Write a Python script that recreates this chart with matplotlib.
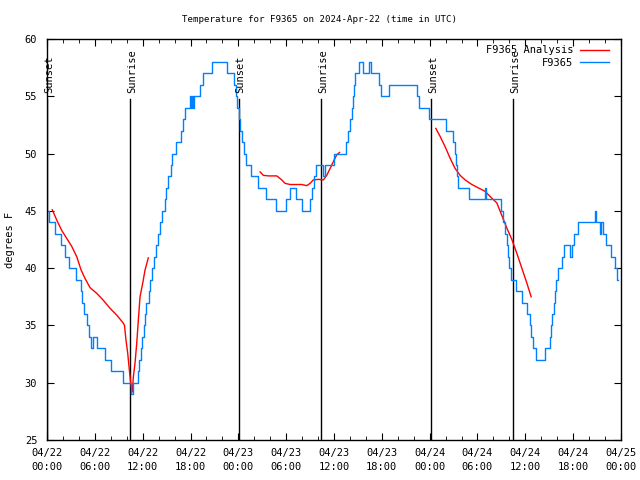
import matplotlib
matplotlib.use("Agg")
import matplotlib.pyplot as plt
from matplotlib.ticker import MultipleLocator, FuncFormatter
import numpy as np

plt.rcParams['font.family'] = ['DejaVu Sans Mono']
plt.rcParams['font.size'] = 7

# hours since 2024-04-22 00:00 UTC
obs_hours = [0.1, 0.3, 1.0, 1.75, 2.3, 2.8, 3.6, 4.23, 4.35, 4.7, 5.0, 5.27, 5.52, 5.83, 6.21,
             7.28, 8.09, 9.54, 10.54, 10.79, 11.36, 11.54, 11.73, 11.92, 12.11, 12.30, 12.48,
             12.74, 12.92, 13.17, 13.43, 13.68, 13.93, 14.18, 14.39, 14.81, 14.93, 15.18, 15.5,
             15.72, 16.12, 16.81, 17.0, 17.25, 17.94, 18.03, 18.16, 18.28, 18.38, 19.13, 19.57,
             20.70, 22.52, 23.46, 23.65, 23.84, 24.03, 24.25, 24.5, 24.72, 24.97, 25.6, 26.47,
             27.48, 28.73, 29.92, 30.49, 31.24, 31.99, 32.94, 33.19, 33.44, 33.69, 34.57, 34.82,
             36.0, 37.52, 37.77, 38.02, 38.2, 38.35, 38.52, 38.65, 39.15, 39.59, 40.34, 40.59,
             41.59, 41.84, 42.85, 46.36, 46.68, 47.93, 50.06, 50.94, 51.13, 51.25, 51.38, 51.57,
             52.95, 54.89, 55.02, 56.96, 57.21, 57.4, 57.65, 57.78, 57.97, 58.16, 58.85, 59.6,
             60.16, 60.6, 60.73, 60.92, 61.35, 62.42, 63.05, 63.17, 63.36, 63.61, 63.74, 63.86,
             64.05, 64.62, 64.87, 65.62, 65.81, 66.12, 66.62, 68.7, 68.82, 69.39, 69.5, 69.7,
             70.14, 70.7, 71.2, 71.46, 71.58]
obs_temp = [45, 44, 43, 42, 41, 40, 39, 38, 37, 36, 35, 34, 33, 34, 33,
            32, 31, 30, 29, 30, 31, 32, 33, 34, 35, 36, 37,
            38, 39, 40, 41, 42, 43, 44, 45, 46, 47, 48, 49,
            50, 51, 52, 53, 54, 55, 54, 55, 54, 55, 56, 57,
            58, 57, 56, 55, 54, 53, 52, 51, 50, 49, 48, 47,
            46, 45, 46, 47, 46, 45, 46, 47, 48, 49, 48, 49,
            50, 51, 52, 53, 54, 55, 56, 57, 58, 57, 58, 57,
            56, 55, 56, 55, 54, 53, 52, 51, 50, 49, 48, 47,
            46, 47, 46, 45, 44, 43, 42, 41, 40, 39, 38, 37,
            36, 35, 34, 33, 32, 33, 34, 35, 36, 37, 38, 39,
            40, 41, 42, 41, 42, 43, 44, 45, 44, 43, 44, 43,
            42, 41, 40, 39, 39]

ana1_hours = [0.66, 1.22, 1.84, 2.47, 3.10, 3.73, 4.27, 4.77, 5.40, 6.24, 7.06, 7.90, 8.75,
              9.57, 9.72, 9.91, 10.12, 10.33, 10.50, 10.70, 10.83, 11.04, 11.25, 11.46, 11.67,
              12.01, 12.30, 12.71]
ana1_temp = [45.1, 44.2, 43.3, 42.6, 41.9, 41.0, 39.85, 39.1, 38.3, 37.8, 37.2, 36.5, 35.9,
             35.2, 35.0, 33.7, 32.6, 31.1, 30.0, 29.2, 30.5, 31.7, 33.4, 35.5, 37.5,
             38.7, 39.85, 40.9]
ana2_hours = [26.73, 27.14, 27.77, 28.82, 29.45, 29.86, 30.49, 31.12, 31.96, 32.58, 33.0,
              33.41, 34.04, 34.67, 35.09, 35.51, 35.92, 36.35, 36.7]
ana2_temp = [48.4, 48.1, 48.05, 48.05, 47.7, 47.4, 47.3, 47.3, 47.3, 47.2, 47.4,
             47.7, 47.75, 47.7, 48.1, 48.7, 49.3, 49.9, 50.1]
ana3_hours = [48.77, 49.31, 49.94, 50.56, 51.19, 51.82, 52.45, 53.29, 54.12, 54.96, 55.80,
              56.42, 57.05, 57.68, 58.31, 58.93, 59.56, 60.19, 60.73]
ana3_temp = [52.2, 51.5, 50.6, 49.6, 48.7, 48.1, 47.7, 47.3, 47.0, 46.7, 46.1,
             45.7, 44.6, 43.5, 42.5, 41.3, 40.0, 38.7, 37.5]

sun_hours = [0.05, 10.45, 24.1, 34.42, 48.22, 58.5]
sun_labels = ["Sunset", "Sunrise", "Sunset", "Sunrise", "Sunset", "Sunrise"]

day_names = ["04/22", "04/23", "04/24", "04/25"]

fig = plt.figure(figsize=(6.4, 4.8), dpi=100)
ax = fig.add_axes([47 / 640, 40 / 480, 574 / 640, 401 / 480])

for h, lab in zip(sun_hours, sun_labels):
    ax.plot([h, h], [25, 54.8], color='black', lw=1.0)
    ax.text(h + 0.2, 55.3, lab, rotation=90, ha='center', va='bottom', fontsize=7.5)

red = '#ff0000'
ax.plot(ana1_hours, ana1_temp, color=red, lw=1.0, label='F9365 Analysis')
ax.plot(ana2_hours, ana2_temp, color=red, lw=1.0)
ax.plot(ana3_hours, ana3_temp, color=red, lw=1.0)
ax.plot(obs_hours, obs_temp, color='#0080ff', lw=1.0, drawstyle='steps-post', label='F9365')

ax.set_xlim(0, 72)
ax.set_ylim(25, 60)
ax.xaxis.set_major_locator(MultipleLocator(6))
ax.xaxis.set_minor_locator(MultipleLocator(2))
ax.yaxis.set_major_locator(MultipleLocator(5))


def fmt(x, pos):
    d = int(x // 24)
    hh = int(round(x - d * 24))
    return "%s\n%02d:00" % (day_names[d], hh)


ax.xaxis.set_major_formatter(FuncFormatter(fmt))
ax.tick_params(which='both', direction='in', top=True, right=True, labelsize=7.5)
ax.tick_params(which='major', length=5)
ax.tick_params(which='minor', length=3)
ax.tick_params(axis='x', pad=6)
ax.tick_params(axis='y', pad=7)
for t in ax.get_xticklabels():
    t.set_linespacing(1.5)
for s in ax.spines.values():
    s.set_linewidth(1.0)

ax.set_ylabel("degrees F", fontsize=7.5)
ax.yaxis.set_label_coords(-0.055, 0.5)
ax.set_title("Temperature for F9365 on 2024-Apr-22 (time in UTC)", fontsize=6.6, pad=12,
             x=(320 - 47) / 574)

ax.legend(loc='upper right', frameon=False, markerfirst=False, fontsize=7.5,
          handlelength=2.8, labelspacing=0.25, borderaxespad=0.0, handletextpad=0.6,
          bbox_to_anchor=(1 - 8 / 574, 1 - 2.3 / 401))

fig.savefig("out.png", dpi=100)
